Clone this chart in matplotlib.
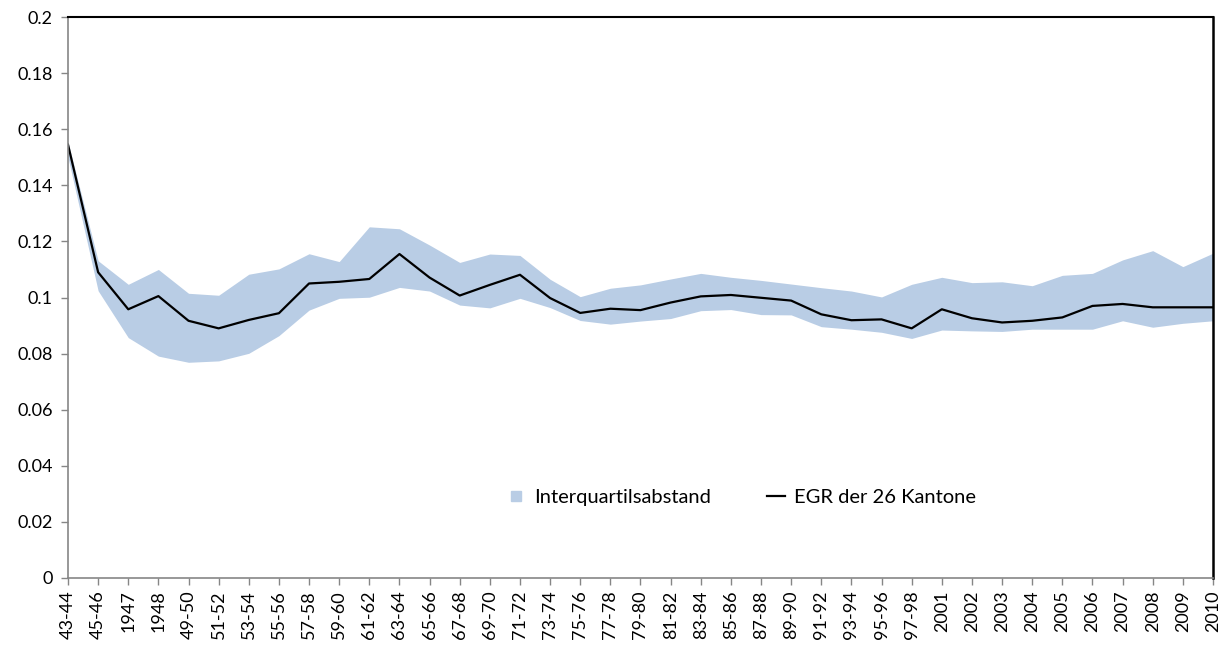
import numpy as np
import matplotlib.pyplot as plt
from matplotlib.lines import Line2D

plt.rcParams['font.family'] = ['Lato', 'DejaVu Sans']

# Kategorien (Perioden)
perioden = ['43-44', '45-46', '1947', '1948', '49-50', '51-52', '53-54', '55-56',
            '57-58', '59-60', '61-62', '63-64', '65-66', '67-68', '69-70', '71-72',
            '73-74', '75-76', '77-78', '79-80', '81-82', '83-84', '85-86', '87-88',
            '89-90', '91-92', '93-94', '95-96', '97-98', '2001', '2002', '2003',
            '2004', '2005', '2006', '2007', '2008', '2009', '2010']

# EGR der 26 Kantone
egr = [0.1545, 0.109, 0.0958, 0.1005, 0.0917, 0.0890, 0.0920, 0.0944,
       0.1050, 0.1056, 0.1066, 0.1155, 0.1071, 0.1007, 0.1045, 0.1081,
       0.0998, 0.0945, 0.0960, 0.0955, 0.0982, 0.1004, 0.1009, 0.0999,
       0.0989, 0.0940, 0.0919, 0.0922, 0.0890, 0.0958, 0.0926, 0.0911,
       0.0917, 0.0929, 0.0970, 0.0977, 0.0965, 0.0965, 0.0965]

# Interquartilsabstand: oberes und unteres Quartil
q_oben = [0.1555, 0.1131, 0.1047, 0.1100, 0.1015, 0.1008, 0.1083, 0.1102,
          0.1156, 0.1128, 0.1252, 0.1245, 0.1187, 0.1125, 0.1155, 0.1150,
          0.1065, 0.1003, 0.1033, 0.1045, 0.1066, 0.1086, 0.1072, 0.1061,
          0.1048, 0.1035, 0.1023, 0.1002, 0.1047, 0.1072, 0.1053, 0.1056,
          0.1042, 0.1079, 0.1086, 0.1134, 0.1167, 0.1110, 0.1158]
q_unten = [0.1500, 0.1024, 0.0857, 0.0791, 0.0769, 0.0774, 0.0801, 0.0864,
           0.0955, 0.0997, 0.1001, 0.1036, 0.1023, 0.0973, 0.0963, 0.0997,
           0.0964, 0.0918, 0.0905, 0.0916, 0.0925, 0.0953, 0.0957, 0.0939,
           0.0938, 0.0896, 0.0887, 0.0876, 0.0854, 0.0884, 0.0881, 0.0879,
           0.0887, 0.0887, 0.0887, 0.0917, 0.0894, 0.0908, 0.0917]

fill_farbe = '#B9CDE5'
grau = '#868686'

fig = plt.figure(figsize=(12.31, 6.46), dpi=100)
ax = fig.add_axes([68/1231, 1-578/646, (1213-68)/1231, (578-17)/646])

x = np.arange(len(perioden))
ax.fill_between(x, q_unten, q_oben, color=fill_farbe, linewidth=0)
ax.plot(x, egr, color='black', linewidth=1.6)

ax.set_xlim(0, len(perioden)-1)
ax.set_ylim(0, 0.2)
ax.set_yticks(np.arange(0, 0.201, 0.02))
ax.set_yticklabels(['0', '0.02', '0.04', '0.06', '0.08', '0.1', '0.12', '0.14', '0.16', '0.18', '0.2'])
ax.set_xticks(x)
ax.set_xticklabels(perioden, rotation=90)
ax.tick_params(axis='both', colors=grau, labelcolor='black', labelsize=13, length=5, width=1)
ax.tick_params(axis='y', pad=6)
ax.tick_params(axis='x', pad=4)

ax.spines['left'].set_color(grau)
ax.spines['bottom'].set_color(grau)
ax.spines['left'].set_linewidth(1.2)
ax.spines['bottom'].set_linewidth(1.2)
ax.spines['top'].set_color('black')
ax.spines['right'].set_color('black')
ax.spines['top'].set_linewidth(1.5)
ax.spines['right'].set_linewidth(1.8)

handles = [Line2D([], [], marker='s', linestyle='none', markersize=7.5, color=fill_farbe),
           Line2D([], [], color='black', linewidth=1.6)]
ax.legend(handles, ['Interquartilsabstand', 'EGR der 26 Kantone'], ncol=2, frameon=False,
          loc='center', bbox_to_anchor=(0.588, 0.143), fontsize=14.5,
          handlelength=0.9, handletextpad=0.45, columnspacing=2.8)

plt.savefig('out.png', dpi=100)
